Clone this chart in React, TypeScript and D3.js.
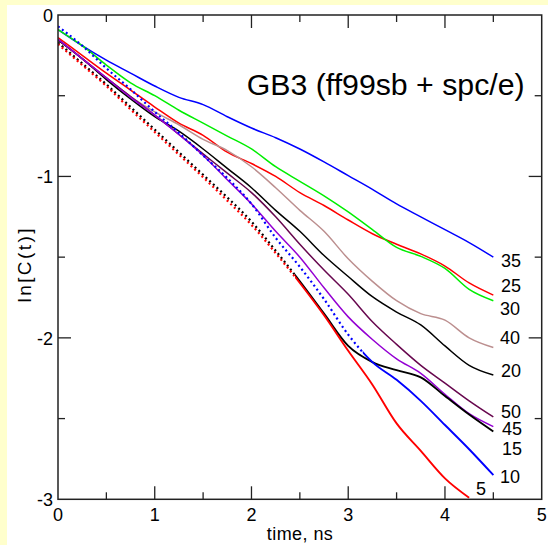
import * as d3 from 'd3';

// time grid, ns
const TIME = [0, 0.25, 0.5, 0.75, 1.0, 1.25, 1.5, 1.75, 2.0, 2.25, 2.5, 2.75, 3.0, 3.25, 3.5, 3.75, 4.0, 4.25, 4.5];

// ln[C(t)], one array per temperature/label
const LN_35 = [-0.09, -0.19, -0.28, -0.36, -0.44, -0.51, -0.555, -0.63, -0.70, -0.76, -0.83, -0.91, -0.995, -1.08, -1.17, -1.25, -1.33, -1.41, -1.50];
const LN_25 = [-0.14, -0.25, -0.36, -0.465, -0.57, -0.67, -0.745, -0.85, -0.92, -1.00, -1.10, -1.18, -1.27, -1.355, -1.42, -1.48, -1.555, -1.66, -1.735];
const LN_30 = [-0.09, -0.19, -0.31, -0.42, -0.50, -0.59, -0.67, -0.75, -0.83, -0.94, -1.03, -1.12, -1.22, -1.33, -1.44, -1.495, -1.57, -1.70, -1.77];
const LN_40 = [-0.155, -0.27, -0.39, -0.505, -0.60, -0.68, -0.77, -0.84, -0.94, -1.07, -1.21, -1.34, -1.51, -1.65, -1.77, -1.85, -1.89, -2.00, -2.06];
const LN_20 = [-0.155, -0.27, -0.40, -0.52, -0.63, -0.72, -0.83, -0.95, -1.07, -1.21, -1.34, -1.49, -1.62, -1.745, -1.84, -1.92, -2.05, -2.17, -2.23];
const LN_50 = [-0.15, -0.27, -0.39, -0.505, -0.62, -0.74, -0.86, -0.98, -1.10, -1.25, -1.42, -1.58, -1.73, -1.90, -2.04, -2.17, -2.28, -2.39, -2.49];
const LN_45 = [-0.15, -0.27, -0.39, -0.51, -0.62, -0.74, -0.87, -1.02, -1.17, -1.34, -1.50, -1.69, -1.87, -2.01, -2.13, -2.22, -2.35, -2.47, -2.55];
const LN_15 = [-0.17, -0.30, -0.43, -0.57, -0.71, -0.85, -0.99, -1.13, -1.28, -1.46, -1.65, -1.85, -2.05, -2.15, -2.20, -2.245, -2.36, -2.475, -2.58];
const LN_10 = [-0.07, -0.19, -0.33, -0.46, -0.60, -0.73, -0.87, -1.01, -1.17, -1.38, -1.56, -1.76, -1.98, -2.15, -2.26, -2.39, -2.54, -2.69, -2.85];
const LN_5 = [-0.18, -0.31, -0.44, -0.585, -0.725, -0.865, -1.005, -1.15, -1.30, -1.475, -1.66, -1.86, -2.08, -2.29, -2.53, -2.70, -2.87, -2.99];

const LABELS = ['35', '25', '30', '40', '20', '50', '45', '15', '10', '5'];
// where the hand-placed labels sit, in data units
const LABEL_T = [4.58, 4.58, 4.57, 4.57, 4.58, 4.58, 4.59, 4.59, 4.57, 4.32];
const LABEL_LN = [-1.559, -1.714, -1.858, -2.04, -2.24, -2.498, -2.60, -2.726, -2.90, -2.973];

const X_TICKS = [0, 1, 2, 3, 4, 5];
const Y_TICKS = [0, -1, -2, -3];

const W = 548, H = 545;
const L = 58, R = 541.7, T = 15, B = 499.3;

const series = [
  { values: LN_35, color: '#0000ff', dotUntil: 0 },
  { values: LN_25, color: '#ff0000', dotUntil: 0 },
  { values: LN_30, color: '#00ee00', dotUntil: 0 },
  { values: LN_40, color: '#bc8f8f', dotUntil: 0 },
  { values: LN_20, color: '#000000', dotUntil: 0 },
  { values: LN_50, color: '#67074e', dotUntil: 0 },
  { values: LN_45, color: '#9400d3', dotUntil: 0 },
  { values: LN_15, color: '#000000', dotUntil: 2.45 },
  { values: LN_10, color: '#0000ff', dotUntil: 3.15 },
  { values: LN_5, color: '#ff0000', dotUntil: 2.45 },
];

const x = d3.scaleLinear().domain([0, 5]).range([L, R]);
const y = d3.scaleLinear().domain([0, -3]).range([T, B]);

const line = d3.line<[number, number]>()
  .x(d => x(d[0]))
  .y(d => y(d[1]))
  .curve(d3.curveMonotoneX);

const font = 'Liberation Sans, Arial, Helvetica, sans-serif';

export default function App() {
  const minorX = d3.range(0.5, 5, 1);
  const minorY = d3.range(-0.5, -3, -1);
  const tickColor = '#222';

  return (
    <svg width={W} height={H} style={{ position: 'absolute', left: 0, top: 0 }} fontFamily={font}>
      <rect width={W} height={H} fill="#ffffcc" />
      <rect x={7} y={5} width={W - 7} height={H - 5} fill="#ffffff" />
      <defs>
        <clipPath id="plot"><rect x={L} y={T} width={R - L} height={B - T} /></clipPath>
        {series.map((s, i) => s.dotUntil > 0 && (
          <g key={i}>
            <clipPath id={`pre${i}`}><rect x={L} y={T} width={x(s.dotUntil) - L} height={B - T} /></clipPath>
            <clipPath id={`post${i}`}><rect x={x(s.dotUntil)} y={T} width={R - x(s.dotUntil)} height={B - T} /></clipPath>
          </g>
        ))}
      </defs>

      {/* curves */}
      <g clipPath="url(#plot)" fill="none">
        {series.map((s, i) => {
          const pts = s.values.map((v, j) => [TIME[j], v] as [number, number]);
          const d = line(pts) || '';
          if (!s.dotUntil) {
            return <path key={i} d={d} stroke={s.color} strokeWidth={1.5} />;
          }
          return (
            <g key={i}>
              <path d={d} stroke={s.color} strokeWidth={2.2} strokeDasharray="2 3" clipPath={`url(#pre${i})`} />
              <path d={d} stroke={s.color} strokeWidth={1.9} clipPath={`url(#post${i})`} />
            </g>
          );
        })}
      </g>

      {/* frame */}
      <rect x={L} y={T} width={R - L} height={B - T} fill="none" stroke={tickColor} strokeWidth={1.5} />

      {/* ticks */}
      <g stroke={tickColor} strokeWidth={1.3}>
        {X_TICKS.slice(1, -1).map(t => (
          <g key={'xm' + t}>
            <line x1={x(t)} x2={x(t)} y1={B} y2={B - 13} />
            <line x1={x(t)} x2={x(t)} y1={T} y2={T + 13} />
          </g>
        ))}
        {minorX.map(t => (
          <g key={'xn' + t}>
            <line x1={x(t)} x2={x(t)} y1={B} y2={B - 7} />
            <line x1={x(t)} x2={x(t)} y1={T} y2={T + 7} />
          </g>
        ))}
        {Y_TICKS.slice(1, -1).map(t => (
          <g key={'ym' + t}>
            <line x1={L} x2={L + 13} y1={y(t)} y2={y(t)} />
            <line x1={R} x2={R - 13} y1={y(t)} y2={y(t)} />
          </g>
        ))}
        {minorY.map(t => (
          <g key={'yn' + t}>
            <line x1={L} x2={L + 7} y1={y(t)} y2={y(t)} />
            <line x1={R} x2={R - 7} y1={y(t)} y2={y(t)} />
          </g>
        ))}
      </g>

      {/* tick labels */}
      <g fontSize={18} fill="#000">
        {X_TICKS.map(t => (
          <text key={'xl' + t} x={x(t)} y={B + 22} textAnchor="middle">{t}</text>
        ))}
        {Y_TICKS.map(t => (
          <text key={'yl' + t} x={L - 5} y={y(t) + 7} textAnchor="end">{t}</text>
        ))}
      </g>

      {/* axis titles */}
      <text x={(L + R) / 2} y={540} textAnchor="middle" fontSize={18} textLength={66} lengthAdjust="spacing">time, ns</text>
      <text transform={`translate(31,${265.5}) rotate(-90)`} textAnchor="middle" fontSize={19}
        textLength={74} lengthAdjust="spacing">ln[C(t)]</text>

      {/* title */}
      <text x={246.7} y={95} fontSize={29.5} textLength={278} lengthAdjust="spacingAndGlyphs">GB3 (ff99sb + spc/e)</text>

      {/* curve labels */}
      <g fontSize={18}>
        {LABELS.map((lab, i) => (
          <text key={lab} x={x(LABEL_T[i])} y={y(LABEL_LN[i])}>{lab}</text>
        ))}
      </g>
    </svg>
  );
}
